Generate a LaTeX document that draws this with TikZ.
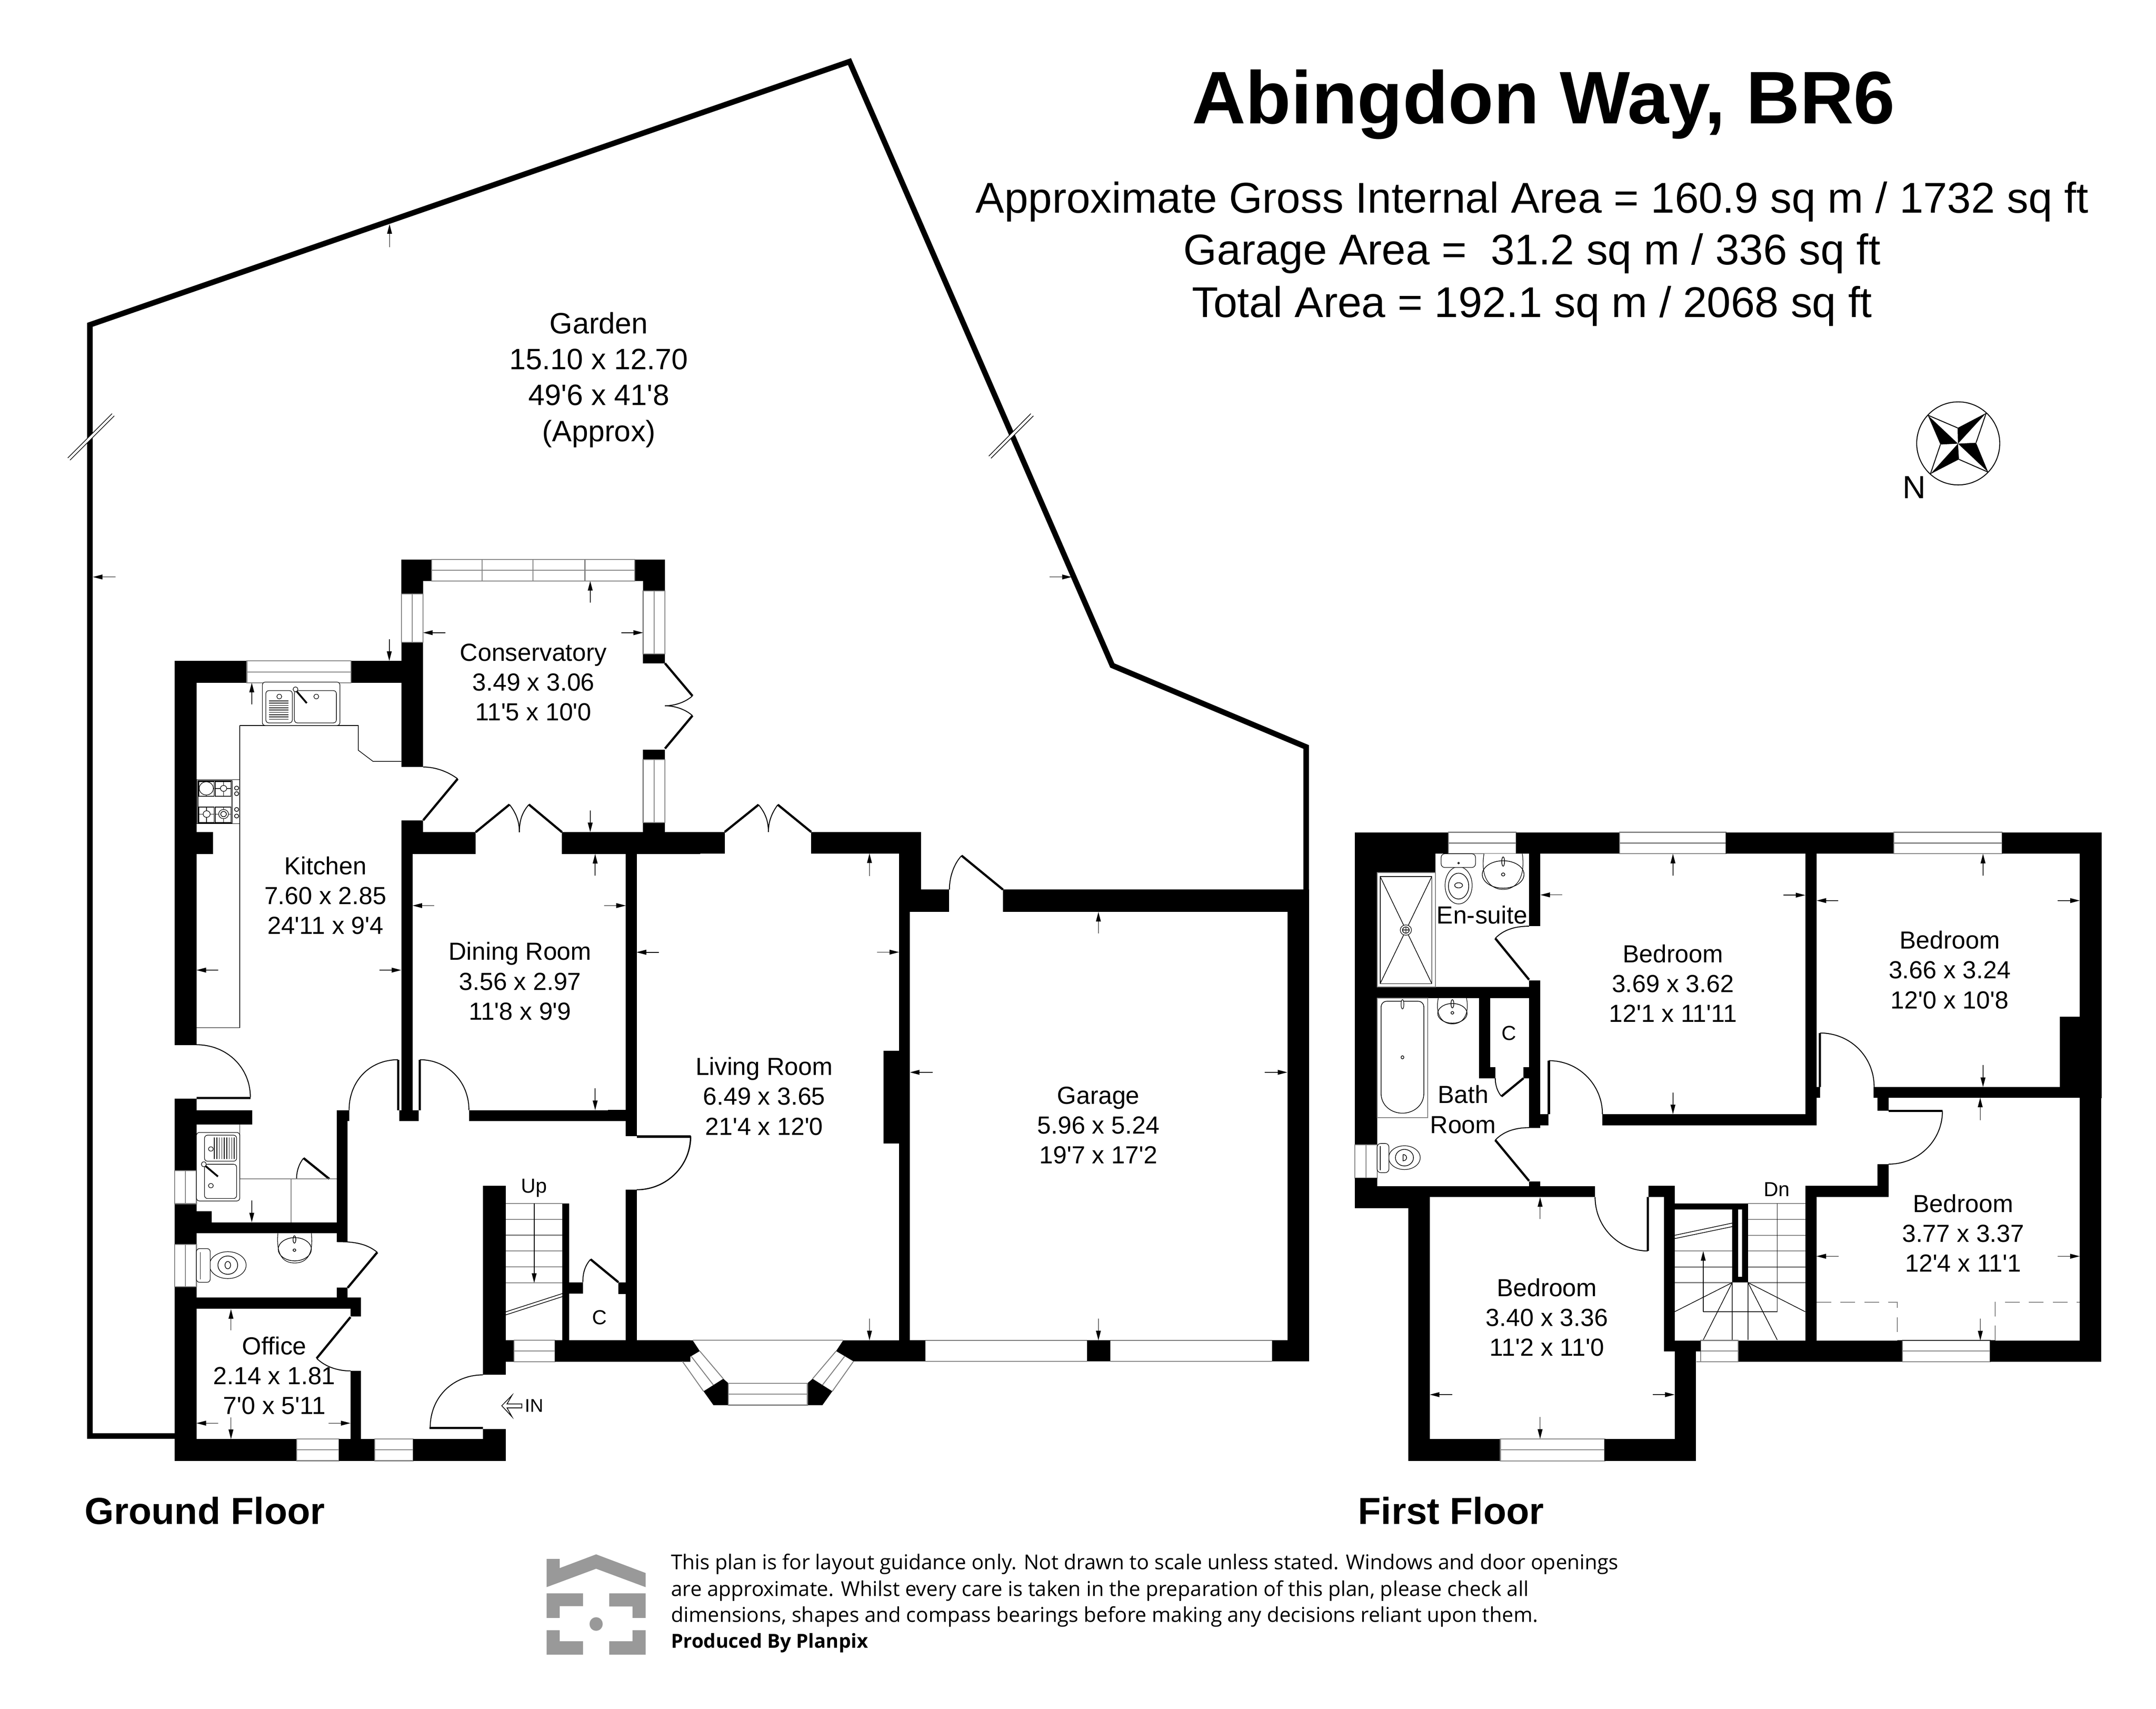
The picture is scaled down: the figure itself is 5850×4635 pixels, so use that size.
\documentclass[tikz,border=0pt]{standalone}
\usepackage{fontspec}
\setmainfont[Ligatures=TeXOff]{Liberation Sans}
\newfontfamily\discfont[Ligatures=TeXOff]{Open Sans}
\usetikzlibrary{arrows.meta}
\definecolor{logogrey}{HTML}{999999}
\definecolor{wingrey}{HTML}{808080}
\tikzset{
  zoomA/.style={shift={(400,1450)},xscale=.9566,yscale=.8929},
  zoomB/.style={shift={(400,2750)},xscale=.9566,yscale=.8291},
  zoomC/.style={shift={(1650,2150)},xscale=1.2755,yscale=1.2117},
  zoomD/.style={shift={(3650,2200)},xscale=.7653,yscale=.7015},
  zoomE/.style={shift={(4600,2200)},xscale=.7653,yscale=.7015},
  zoomF/.style={shift={(3650,3000)},xscale=.7653,yscale=.6696},
  zoomG/.style={shift={(4400,2850)},xscale=.8929,yscale=.6378},
  zoomH/.style={shift={(1400,4150)},xscale=1.977,yscale=.3333},
  zoomI/.style={shift={(5100,1050)},xscale=.3333,yscale=.3333},
  wallfill/.style={fill=black,draw=none},
  thinl/.style={draw=black,line width=.18pt},
  winl/.style={draw=wingrey,line width=.25pt},
  doorleaf/.style={draw=black,line width=.6pt},
  doorarc/.style={draw=black,line width=.25pt},
  dimarrow/.style={draw=black,line width=.18pt,-{Triangle[length=2.6pt,width=1.3pt]}},
  roomtxt/.style={align=center,inner sep=0pt,yshift=.3pt,font=\fontsize{6.7}{8.1}\selectfont},
  smalltxt/.style={inner sep=0pt,font=\fontsize{5.5}{6.6}\selectfont},
  disctxt/.style={inner sep=0pt,anchor=base west,font=\discfont\fontsize{5.55}{6.5}\selectfont},
  areatxt/.style={inner sep=0pt,anchor=base,font=\fontsize{11.67}{14}\selectfont},
  floortxt/.style={inner sep=0pt,anchor=base west,font=\bfseries\fontsize{10.2}{12}\selectfont},
  sanit/.style={draw=black,line width=.15pt,fill=white}
}
\newcommand{\wl}[4]{\fill[wallfill] (#1,#2) rectangle (#3,#4);}
\newcommand{\wh}[4]{\draw[winl] (#1,#2) rectangle (#3,#4); \draw[winl] (#1,{(#2+#4)/2}) -- (#3,{(#2+#4)/2});}
\newcommand{\wv}[4]{\draw[winl] (#1,#2) rectangle (#3,#4); \draw[winl] ({(#1+#3)/2},#2) -- ({(#1+#3)/2},#4);}
\newcommand{\da}[4]{\draw[dimarrow] (#1,#2) -- (#3,#4);}
\begin{document}
\begin{tikzpicture}[x=.1pt,y=-.1pt]
\useasboundingbox (0,0) rectangle (5850,4635);
\fill[white] (0,0) rectangle (5850,4635);
% garden
\draw[line width=1.5pt,miter limit=10] (474,3895) -- (244,3895) -- (244,881) -- (2305,167) -- (3018,1805) -- (3544,2026) -- (3544,2413);
\fill[white] (304,1122) -- (310,1128) -- (190,1248) -- (184,1242) -- cycle;
\draw[thinl] (304,1122) -- (184,1242) (310,1128) -- (190,1248);
\fill[white] (2797,1122) -- (2804,1128) -- (2689,1243) -- (2683,1237) -- cycle;
\draw[thinl] (2797,1122) -- (2683,1237) (2804,1128) -- (2689,1243);
\da{313}{1565}{252}{1565}
\da{1057}{670}{1057}{608}
\da{2848}{1565}{2908}{1565}
\node[roomtxt,yshift=-.3pt,font=\fontsize{8}{9.75}\selectfont] (garden) at (1625,1030) {Garden\\15.10 x 12.70\\49'6 x 41'8\\(Approx)};
% titles
\node[inner sep=0pt,anchor=base,font=\bfseries\fontsize{20.2}{24}\selectfont] (title) at (4188,335) {Abingdon Way, BR6};
\node[areatxt] (areaA) at (4157,577) {Approximate Gross Internal Area = 160.9 sq m / 1732 sq ft};
\node[areatxt] (areaB) at (4157,718) {Garage Area = \ 31.2 sq m / 336 sq ft};
\node[areatxt] (areaC) at (4157,860) {Total Area = 192.1 sq m / 2068 sq ft};
\node[floortxt] (groundfl) at (228,4134) {Ground Floor};
\node[floortxt] (firstfl) at (3683,4134) {First Floor};
\node[disctxt] (discA) at (1819,4257) {This plan is for layout guidance only. Not drawn to scale unless stated. Windows and door openings};
\node[disctxt] (discB) at (1819,4329) {are approximate. Whilst every care is taken in the preparation of this plan, please check all};
\node[disctxt] (discC) at (1819,4400) {dimensions, shapes and compass bearings before making any decisions reliant upon them.};
\node[disctxt,font=\discfont\bfseries\fontsize{5.25}{6.5}\selectfont] (discD) at (1819,4470) {Produced By Planpix};
% logo
\begin{scope}[zoomH]
\fill[logogrey] (42,235) -- (60,235) -- (60,310) -- (110,198) -- (178,350) -- (178,465) -- (110,315) -- (42,465) -- cycle;
\fill[logogrey] (42,515) -- (92,515) -- (92,620) -- (60,620) -- (60,715) -- (42,715) -- cycle;
\fill[logogrey] (128,515) -- (178,515) -- (178,715) -- (160,715) -- (160,622) -- (128,622) -- cycle;
\fill[logogrey] (110,765) ellipse [x radius=9,y radius=55];
\fill[logogrey] (42,815) -- (60,815) -- (60,905) -- (92,905) -- (92,1015) -- (42,1015) -- cycle;
\fill[logogrey] (160,815) -- (178,815) -- (178,1015) -- (128,1015) -- (128,905) -- (160,905) -- cycle;
\end{scope}
% compass
\begin{scope}[zoomI]
\draw[line width=.25pt] (640,458) circle (338);
\fill (392,228) -- (495,467) -- (638,460) -- cycle;
\fill (868,210) -- (635,332) -- (638,460) -- cycle;
\fill (884,692) -- (785,453) -- (638,460) -- cycle;
\fill (413,708) -- (646,588) -- (638,460) -- cycle;
\draw[line width=.25pt] (392,228) -- (635,332) (868,210) -- (785,453) (884,692) -- (646,588) (413,708) -- (495,467);
\node[inner sep=0pt,font=\fontsize{8.7}{10}\selectfont] (north) at (283,815) {N};
\end{scope}
% ---------- ground floor, upper part
\begin{scope}[zoomA]
\fill[wallfill] (720,76) -- (806,76) -- (806,141) -- (782,141) -- (782,180) -- (720,180) -- cycle;
\fill[wallfill] (1382,76) -- (1468,76) -- (1468,171) -- (1406,171) -- (1406,141) -- (1382,141) -- cycle;
\wl{720}{327}{782}{706}
\wl{577}{384}{720}{450}
\wl{77}{384}{282}{450}
\wl{77}{384}{139}{1551}
\wl{139}{904}{186}{970}
\wl{1406}{362}{1468}{391}
\wl{1406}{654}{1468}{684}
\wl{1406}{875}{1468}{904}
\wl{720}{868}{782}{970}
\wl{782}{904}{931}{970}
\wl{1176}{904}{1568}{970}
\wl{720}{868}{752}{1568}
\wl{1357}{970}{1388}{1568}
\draw[winl] (806,76) rectangle (1382,141);
\draw[winl] (806,108) -- (1382,108) (949,76) -- (949,141) (1094,76) -- (1094,141) (1241,76) -- (1241,141);
\wv{720}{180}{782}{327}
\wh{282}{384}{577}{450}
\wv{1406}{171}{1468}{362}
\wv{1406}{684}{1468}{875}
% doors
\draw[doorleaf] (782,868) -- (880,742);
\draw[doorarc] (880,742) .. controls (855,722) and (820,706) .. (782,706);
\draw[doorleaf] (931,904) -- (1027,820);
\draw[doorarc] (1027,820) .. controls (1045,845) and (1055,870) .. (1055,904);
\draw[doorleaf] (1176,904) -- (1082,820);
\draw[doorarc] (1082,820) .. controls (1062,845) and (1055,870) .. (1055,904);
\draw[doorleaf] (1468,391) -- (1546,490);
\draw[doorarc] (1546,490) .. controls (1525,510) and (1495,520) .. (1468,520);
\draw[doorleaf] (1468,650) -- (1546,550);
\draw[doorarc] (1546,550) .. controls (1525,530) and (1495,520) .. (1468,520);
% worktop
\draw[thinl] (262,580) -- (598,580) -- (598,655) -- (640,689) -- (720,689);
\draw[thinl] (262,580) -- (262,1498) -- (139,1498);
% sink
\draw[sanit,rounded corners=.8pt] (326,448) rectangle (546,580);
\draw[sanit,rounded corners=.8pt] (336,474) rectangle (411,572);
\draw[sanit,rounded corners=.8pt] (417,474) rectangle (536,572);
\foreach \yy in {505,512,519,526,533,540,547,554,561} {\draw[thinl] (345,\yy) -- (400,\yy);}
\draw[sanit] (374,492) ellipse [x radius=7,y radius=7];
\draw[sanit] (479,492) ellipse [x radius=7,y radius=7];
\draw[line width=.5pt] (420,472) -- (452,512);
\draw[sanit] (420,470) ellipse [x radius=7,y radius=7];
% hob
\draw[sanit] (140,744) rectangle (262,878);
\draw[thinl] (143,748) rectangle (240,876);
\draw[thinl] (146,750) rectangle (189,795) (192,750) rectangle (237,795) (146,828) rectangle (189,875) (192,828) rectangle (237,875);
\draw[thinl] (146,771) -- (189,771) (167,750) -- (167,795) (192,771) -- (237,771) (216,750) -- (216,795);
\draw[thinl] (146,849) -- (189,849) (168,828) -- (168,875) (192,849) -- (237,849) (216,828) -- (216,875);
\draw[sanit] (167,771) ellipse [x radius=20,y radius=20];
\draw[sanit] (216,771) ellipse [x radius=9,y radius=9];
\draw[sanit] (168,849) ellipse [x radius=10,y radius=10];
\draw[sanit] (216,849) ellipse [x radius=14,y radius=14];
\draw[thinl] (216,849) ellipse [x radius=8,y radius=8];
\foreach \yy in {770,787,835,855} {\draw[thinl] (253,\yy) ellipse [x radius=6,y radius=6];}
% arrows
\da{1256}{207}{1256}{141}
\da{845}{298}{782}{298}
\da{1344}{298}{1406}{298}
\da{686}{318}{686}{384}
\da{296}{516}{296}{450}
\da{1256}{838}{1256}{904}
\da{1270}{1036}{1270}{970}
\da{814}{1127}{752}{1127}
\da{1295}{1127}{1357}{1127}
\da{1451}{1269}{1388}{1269}
\da{201}{1323}{139}{1323}
\da{658}{1323}{720}{1323}
\node[roomtxt] (conserv) at (1095,452) {Conservatory\\3.49 x 3.06\\11'5 x 10'0};
\node[roomtxt] (kitchen) at (505,1100) {Kitchen\\7.60 x 2.85\\24'11 x 9'4};
\node[roomtxt] (dining) at (1057,1360) {Dining Room\\3.56 x 2.97\\11'8 x 9'9};
\end{scope}
% ---------- ground floor, lower part
\begin{scope}[zoomB]
\wl{77}{278}{139}{513}
\wl{77}{621}{139}{754}
\wl{77}{893}{139}{1462}
\wv{77}{513}{139}{621}
\wv{77}{754}{139}{893}
\wl{139}{315}{297}{362}
\wl{139}{645}{182}{682}
\wl{139}{682}{537}{718}
\wl{537}{315}{568}{745}
\wl{537}{315}{572}{350}
\wl{537}{896}{568}{928}
\wl{139}{928}{606}{965}
\wl{576}{965}{606}{990}
\wl{576}{1168}{606}{1391}
\wl{77}{1391}{423}{1462}
\wh{423}{1391}{543}{1462}
\wl{543}{1391}{645}{1462}
\wh{645}{1391}{754}{1462}
\wl{754}{1391}{1016}{1462}
\wl{952}{1358}{1016}{1391}
\wl{952}{562}{1016}{1181}
\wl{1016}{1067}{1040}{1138}
\wh{1040}{1067}{1156}{1138}
\wl{1156}{1067}{1540}{1138}
\wl{1177}{620}{1196}{1067}
\wl{1196}{878}{1235}{915}
\wl{1336}{878}{1357}{915}
\wl{1357}{575}{1388}{1067}
\wl{1357}{0}{1388}{400}
\wl{912}{315}{1357}{350}
\wl{714}{315}{770}{350}
\wl{720}{0}{752}{315}
% doors
\draw[doorarc] (139,101) .. controls (225,101) and (292,175) .. (292,273);
\draw[doorleaf] (139,275) -- (292,275);
\draw[doorleaf] (711,150) -- (711,315);
\draw[doorleaf] (773,150) -- (773,315);
\draw[doorarc] (711,150) .. controls (630,150) and (572,220) .. (572,315);
\draw[doorarc] (773,150) .. controls (850,150) and (912,220) .. (912,315);
\draw[doorleaf] (1388,402) -- (1540,402);
\draw[doorarc] (1540,402) .. controls (1540,500) and (1470,575) .. (1388,575);
\draw[doorleaf] (516,540) -- (443,472);
\draw[doorarc] (443,472) .. controls (430,490) and (423,515) .. (423,540);
\draw[doorleaf] (568,896) -- (652,780);
\draw[doorarc] (652,780) .. controls (625,755) and (595,745) .. (537,745);
\draw[doorleaf] (576,992) -- (480,1127);
\draw[doorarc] (480,1127) .. controls (505,1155) and (540,1168) .. (576,1168);
\draw[doorleaf] (800,1355) -- (952,1355);
\draw[doorarc] (952,1181) .. controls (870,1181) and (802,1250) .. (802,1355);
\draw[doorleaf] (1336,878) -- (1257,803);
\draw[doorarc] (1257,803) .. controls (1240,825) and (1235,850) .. (1235,878);
% utility worktop and sink
\draw[winl] (262,362) -- (262,540) -- (537,540) (407,540) -- (407,682);
\draw[sanit,rounded corners=.8pt] (139,388) rectangle (262,612);
\draw[sanit,rounded corners=.8pt] (162,397) rectangle (253,482);
\draw[sanit,rounded corners=.8pt] (162,492) rectangle (253,604);
\foreach \xx in {190,197,204,211,218,225,232,239,246} {\draw[thinl] (\xx,405) -- (\xx,475);}
\draw[sanit] (180,442) ellipse [x radius=7,y radius=7];
\draw[sanit] (180,562) ellipse [x radius=7,y radius=7];
\draw[line width=.5pt] (162,495) -- (200,532);
\draw[sanit] (160,492) ellipse [x radius=7,y radius=8];
% wc and basin
\draw[sanit] (228,822) ellipse [x radius=52,y radius=44];
\draw[thinl] (228,822) ellipse [x radius=28,y radius=30];
\draw[thinl] (228,822) ellipse [x radius=8,y radius=12];
\draw[sanit,rounded corners=.8pt] (139,768) rectangle (178,878);
\draw[thinl] (150,780) -- (150,868);
\draw[sanit] (370,718) .. controls (365,790) and (385,815) .. (418,815) .. controls (450,815) and (472,790) .. (465,718);
\draw[thinl] (418,770) ellipse [x radius=47,y radius=38];
\draw[thinl] (417,738) ellipse [x radius=4,y radius=12];
\draw[thinl] (417,773) ellipse [x radius=4,y radius=4];
% stairs
\foreach \yy in {620,672,724,776,828,880} {\draw[winl] (1016,\yy) -- (1177,\yy);}
\draw[thinl] (1097,620) -- (1097,672) -- (1097,724);
\da{1097}{724}{1097}{880}
\draw[thinl] (1016,975) -- (1177,915) (1016,985) -- (1177,925);
% entrance arrow
\draw[line width=.2pt] (1005,1282) -- (1034,1248) -- (1020,1276) -- (1062,1276) -- (1062,1289) -- (1020,1289) -- (1034,1318) -- cycle;
% arrows
\da{296}{610}{296}{682}
\da{237}{1035}{237}{966}
\da{201}{1339}{139}{1339}
\da{514}{1339}{576}{1339}
\da{237}{1320}{237}{1391}
\da{1270}{243}{1270}{315}
\node[roomtxt] (office) at (360,1187) {Office\\2.14 x 1.81\\7'0 x 5'11};
\node[smalltxt] (upstairs) at (1097,570) {Up};
\node[smalltxt] (closetA) at (1282,993) {C};
\node[smalltxt,font=\fontsize{5}{6}\selectfont] (entry) at (1097,1282) {IN};
\end{scope}
% ---------- living room and garage
\begin{scope}[zoomC]
\wl{0}{88}{248}{136}
\wl{432}{88}{666}{136}
\wl{75}{68}{121}{88}
\wl{38}{136}{61}{769}
\wl{0}{710}{38}{735}
\wl{38}{889}{61}{1226}
\wl{22}{1096}{38}{1122}
\wl{619}{88}{666}{267}
\wl{619}{267}{642}{1226}
\wl{666}{217}{725}{267}
\wl{840}{217}{1491}{267}
\wl{1445}{267}{1491}{1273}
\wl{586}{578}{619}{785}
\wl{1019}{1226}{1068}{1273}
\wl{1412}{1226}{1445}{1273}
\fill[wallfill] (0,1226) -- (180,1226) -- (195,1250) -- (158,1273) -- (0,1273) -- cycle;
\fill[wallfill] (675,1226) -- (500,1226) -- (485,1250) -- (522,1273) -- (675,1273) -- cycle;
\wl{619}{1226}{675}{1273}
\fill[wallfill] (203,1340) -- (245,1312) -- (256,1322) -- (256,1371) -- (224,1371) -- cycle;
\fill[wallfill] (477,1340) -- (435,1312) -- (424,1322) -- (424,1371) -- (456,1371) -- cycle;
\draw[winl] (158,1273) -- (203,1340) (195,1250) -- (245,1312) (177,1262) -- (224,1326);
\draw[winl] (522,1273) -- (477,1340) (485,1250) -- (435,1312) (503,1262) -- (456,1326);
\wh{256}{1322}{424}{1371}
\draw[winl] (180,1226) -- (500,1226);
\draw[winl] (675,1273) -- (1019,1273) (1068,1273) -- (1412,1273);
\draw[thinl] (675,1226) -- (1019,1226) (1068,1226) -- (1412,1226);
\draw[doorleaf] (248,88) -- (320,27);
\draw[doorleaf] (432,88) -- (361,27);
\draw[doorarc] (320,27) .. controls (338,50) and (341,70) .. (341,88);
\draw[doorarc] (361,27) .. controls (345,50) and (341,70) .. (341,88);
\draw[doorleaf] (61,769) -- (176,769);
\draw[doorarc] (176,769) .. controls (176,835) and (125,889) .. (61,889);
\draw[doorleaf] (840,217) -- (752,141);
\draw[doorarc] (752,141) .. controls (735,160) and (726,190) .. (726,217);
\da{556}{187}{556}{136}
\da{108}{357}{61}{357}
\da{572}{357}{619}{357}
\da{690}{626}{642}{626}
\da{1397}{626}{1445}{626}
\da{1043}{315}{1043}{267}
\da{1043}{1177}{1043}{1226}
\da{556}{1177}{556}{1226}
\node[roomtxt] (living) at (332,682) {Living Room\\6.49 x 3.65\\21'4 x 12'0};
\node[roomtxt] (garage) at (1043,747) {Garage\\5.96 x 5.24\\19'7 x 17'2};
\end{scope}
% ---------- first floor, west
\begin{scope}[zoomD]
\wl{34}{82}{366}{165}
\wh{366}{82}{606}{165}
\wl{606}{82}{973}{165}
\wh{973}{82}{1350}{165}
\wl{1350}{82}{1568}{165}
\wl{34}{82}{113}{1290}
\wl{113}{165}{320}{238}
\wv{34}{1290}{113}{1418}
\wl{34}{1418}{113}{1535}
\wl{113}{1450}{886}{1492}
\wl{34}{1492}{300}{1535}
\wl{652}{165}{692}{445}
\wl{652}{655}{692}{1225}
\wl{113}{680}{652}{723}
\wl{474}{723}{514}{1033}
\wl{514}{990}{532}{1033}
\wl{632}{990}{652}{1033}
\wl{692}{1172}{720}{1215}
\wl{912}{1172}{1568}{1215}
\wl{652}{1432}{692}{1450}
\draw[doorleaf] (652,652) -- (532,492);
\draw[doorarc] (532,492) .. controls (560,460) and (600,445) .. (652,445);
\draw[doorleaf] (652,1430) -- (532,1272);
\draw[doorarc] (532,1272) .. controls (560,1240) and (600,1224) .. (652,1224);
\draw[doorleaf] (632,1033) -- (554,1103);
\draw[doorarc] (554,1103) .. controls (540,1085) and (532,1060) .. (532,1033);
\draw[doorleaf] (722,965) -- (722,1172);
\draw[doorarc] (722,965) .. controls (830,965) and (912,1060) .. (912,1172);
% shower
\draw[winl] (113,238) rectangle (320,680);
\draw[thinl] (124,253) rectangle (307,667);
\draw[thinl] (124,253) -- (307,667) (307,253) -- (124,667);
\draw[sanit] (215,460) ellipse [x radius=20,y radius=20];
\draw[thinl] (215,460) ellipse [x radius=12,y radius=12];
\draw[thinl] (203,460) -- (227,460) (215,448) -- (215,472);
% bath
\draw[winl] (113,723) rectangle (293,1185);
\draw[thinl] (127,1090) -- (127,760) .. controls (127,745) and (135,735) .. (150,735) -- (256,735) .. controls (271,735) and (279,745) .. (279,760) -- (279,1090) .. controls (279,1140) and (240,1168) .. (203,1168) .. controls (165,1168) and (127,1140) .. (127,1090);
\draw[sanit] (203,747) ellipse [x radius=5,y radius=18];
\draw[thinl] (203,952) ellipse [x radius=5,y radius=6];
% en-suite wc
\draw[sanit] (402,287) ellipse [x radius=48,y radius=72];
\draw[thinl] (402,290) ellipse [x radius=36,y radius=50];
\draw[thinl] (402,287) ellipse [x radius=14,y radius=10];
\draw[sanit,rounded corners=1pt] (340,165) rectangle (462,218);
\draw[thinl] (402,201) ellipse [x radius=3,y radius=3];
% en-suite basin
\draw[sanit] (492,165) .. controls (478,260) and (515,303) .. (560,303) .. controls (605,303) and (640,260) .. (628,165);
\draw[thinl] (560,245) ellipse [x radius=74,y radius=53];
\draw[thinl] (560,195) ellipse [x radius=5,y radius=18];
\draw[thinl] (560,245) ellipse [x radius=6,y radius=6];
% bath basin
\draw[sanit] (330,723) .. controls (318,790) and (345,823) .. (380,823) .. controls (415,823) and (442,790) .. (430,723);
\draw[thinl] (380,782) ellipse [x radius=52,y radius=38];
\draw[thinl] (380,745) ellipse [x radius=5,y radius=16];
\draw[thinl] (380,780) ellipse [x radius=5,y radius=5];
% bath wc
\draw[sanit] (210,1340) ellipse [x radius=56,y radius=46];
\draw[thinl] (210,1340) ellipse [x radius=32,y radius=32];
\draw[thinl] (205,1328) -- (205,1352) .. controls (222,1352) and (222,1328) .. (205,1328);
\draw[sanit,rounded corners=1pt] (113,1285) rectangle (155,1398);
\draw[thinl] (124,1295) -- (124,1388);
\da{1162}{250}{1162}{165}
\da{770}{324}{692}{324}
\da{1162}{1088}{1162}{1172}
\node[roomtxt] (ensuite) at (485,405) {En-suite};
\node[roomtxt] (bedA) at (1162,670) {Bedroom\\3.69 x 3.62\\12'1 x 11'11};
\node[smalltxt] (closetB) at (581,858) {C};
\node[roomtxt] (bath) at (418,1158) {Bath\\Room};
\end{scope}
% ---------- first floor, north east
\begin{scope}[zoomE]
\wl{107}{82}{704}{165}
\wh{704}{82}{1087}{165}
\wl{1087}{82}{1440}{165}
\wl{1363}{82}{1440}{1110}
\wl{390}{165}{430}{1215}
\wl{0}{1172}{430}{1215}
\wl{430}{1067}{442}{1108}
\draw[doorleaf] (442,858) -- (442,1067);
\draw[doorarc] (442,858) .. controls (550,858) and (634,950) .. (634,1067);
\wl{632}{1067}{1440}{1108}
\wl{1293}{795}{1363}{1067}
\wl{645}{1108}{685}{1158}
\draw[doorleaf] (685,1160) -- (876,1160);
\draw[doorarc] (876,1160) .. controls (876,1275) and (790,1365) .. (685,1365);
\wl{645}{1365}{685}{1492}
\wl{390}{1450}{645}{1492}
\da{313}{325}{390}{325}
\da{507}{346}{430}{346}
\da{1285}{346}{1363}{346}
\da{1020}{250}{1020}{165}
\da{1020}{982}{1020}{1067}
\da{1010}{1195}{1010}{1108}
\node[roomtxt] (bedB) at (902,618) {Bedroom\\3.66 x 3.24\\12'0 x 10'8};
\end{scope}
% ---------- first floor, south west
\begin{scope}[zoomF]
\wl{34}{324}{886}{369}
\wl{34}{369}{300}{413}
\wl{223}{413}{300}{1437}
\wl{223}{1348}{550}{1437}
\wh{550}{1348}{920}{1437}
\wl{920}{1348}{1244}{1437}
\wl{1168}{994}{1244}{1437}
\wl{1130}{369}{1168}{994}
\wl{1075}{324}{1168}{369}
\draw[doorleaf] (1073,369) -- (1073,587);
\draw[doorarc] (1073,587) .. controls (970,587) and (886,490) .. (886,369);
\da{691}{457}{691}{369}
\da{380}{1169}{300}{1169}
\da{1090}{1169}{1168}{1169}
\da{691}{1260}{691}{1348}
\node[roomtxt] (bedC) at (715,860) {Bedroom\\3.40 x 3.36\\11'2 x 11'0};
\end{scope}
% ---------- first floor, south east
\begin{scope}[zoomG]
\wl{129}{622}{161}{1278}
\wl{161}{650}{384}{676}
\wl{336}{650}{384}{986}
\fill[white] (354,676) rectangle (366,962);
\foreach \yy in {650,717,785,852,920,986} {\draw[winl] (384,\yy) -- (558,\yy);}
\foreach \yy in {852,920,986} {\draw[winl] (161,\yy) -- (336,\yy);}
\draw[thinl] (473,650) -- (473,1110) -- (248,1110);
\da{248}{1110}{248}{852}
\draw[thinl] (161,785) -- (336,733) (161,799) -- (336,748);
\draw[thinl] (336,986) -- (161,1110) (336,986) -- (248,1230) (384,986) -- (473,1230) (384,986) -- (558,1110) (336,986) -- (336,1230) (384,986) -- (384,1230);
\wl{558}{575}{592}{1232}
\wl{558}{575}{811}{622}
\wl{777}{482}{811}{622}
\wl{82}{575}{161}{622}
\wl{354}{1232}{853}{1322}
\wh{853}{1232}{1120}{1322}
\wl{1120}{1232}{1458}{1322}
\wh{240}{1232}{354}{1322}
\wl{161}{1232}{240}{1278}
\wl{1392}{200}{1458}{1322}
\draw[winl] (227,1322) -- (240,1322);
\draw[winl,dash pattern=on 4pt off 2.5pt] (592,1070) -- (838,1070) -- (838,1232);
\draw[winl,dash pattern=on 4pt off 2.5pt] (1135,1232) -- (1135,1070) -- (1392,1070);
\draw[thinl] (838,1232) -- (1135,1232);
\da{660}{874}{592}{874}
\da{1325}{874}{1392}{874}
\da{1090}{1140}{1090}{1232}
\node[roomtxt] (bedD) at (1038,780) {Bedroom\\3.77 x 3.37\\12'4 x 11'1};
\node[smalltxt] (downstairs) at (471,590) {Dn};
\end{scope}
\end{tikzpicture}
\end{document}
